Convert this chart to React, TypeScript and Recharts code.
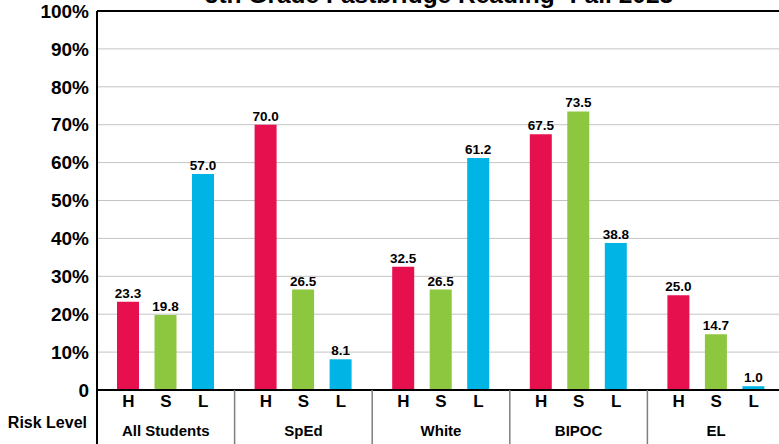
import {
  BarChart,
  Bar,
  XAxis,
  YAxis,
  CartesianGrid,
  ReferenceLine,
  LabelList,
} from 'recharts';

const groups = ['All Students', 'SpEd', 'White', 'BIPOC', 'EL'];
const highRisk = [23.3, 70.0, 32.5, 67.5, 25.0];
const someRisk = [19.8, 26.5, 26.5, 73.5, 14.7];
const lowRisk = [57.0, 8.1, 61.2, 38.8, 1.0];
const riskLabels = ['H', 'S', 'L'];
const yTicks = [0, 10, 20, 30, 40, 50, 60, 70, 80, 90, 100];

const title = '5th Grade Fastbridge Reading- Fall 2023';
const font = '"Liberation Sans", Arial, sans-serif';

const data = groups.map((g, i) => ({
  group: g,
  H: highRisk[i],
  S: someRisk[i],
  L: lowRisk[i],
}));

const GroupTick = ({ x, y, payload, index }: any) => {
  const half = 137.6 / 2;
  const step = 37.5;
  return (
    <g>
      {riskLabels.map((r, i) => (
        <text
          key={r}
          x={x + (i - 1) * step}
          y={y + 17}
          textAnchor="middle"
          fontSize={17}
          fontWeight="bold"
          fontFamily={font}
          fill="#000"
        >
          {r}
        </text>
      ))}
      <text x={x} y={y + 46} textAnchor="middle" fontSize={15} fontWeight="bold" fontFamily={font} fill="#000">
        {payload.value}
      </text>
      <line x1={x + half} y1={y} x2={x + half} y2={y + 60} stroke="#7f7f7f" strokeWidth={1.5} />
      {index === 0 && (
        <g>
          <line x1={x - half} y1={y} x2={x - half} y2={y + 60} stroke="#000" strokeWidth={2} />
          <text x={x - half - 10} y={y + 38} textAnchor="end" fontSize={16} fontWeight="bold" fontFamily={font} fill="#000">
            Risk Level
          </text>
        </g>
      )}
    </g>
  );
};

const fmt = (v: any) => Number(v).toFixed(1);

export default function App() {
  return (
    <div style={{ position: 'absolute', left: 0, top: 0, width: 779, height: 444, overflow: 'hidden', background: '#fff' }}>
      <div
        style={{
          position: 'absolute',
          left: 0,
          top: -18,
          width: 878,
          textAlign: 'center',
          fontFamily: font,
          fontWeight: 'bold',
          fontSize: 24.5,
          lineHeight: '26px',
          whiteSpace: 'nowrap',
        }}
      >
        {title}
      </div>
      <BarChart
        width={800}
        height={444}
        data={data}
        margin={{ top: 11, right: 15, left: 0, bottom: 0 }}
        barSize={22}
        barGap={15.5}
      >
        <CartesianGrid vertical={false} stroke="#c4c4c4" />
        <YAxis
          domain={[0, 100]}
          ticks={yTicks}
          width={97}
          tickLine={false}
          tickSize={0}
          tickMargin={8}
          axisLine={{ stroke: '#000', strokeWidth: 2 }}
          tickFormatter={(v) => (v === 0 ? '0' : `${v}%`)}
          tick={{ fontSize: 19, fontWeight: 'bold', fontFamily: font, fill: '#000' }}
        />
        <XAxis
          dataKey="group"
          height={54}
          tickLine={false}
          tickSize={0}
          tickMargin={0}
          interval={0}
          axisLine={{ stroke: '#000', strokeWidth: 2 }}
          tick={<GroupTick />}
        />
        <ReferenceLine y={100} stroke="#000" strokeWidth={2} />
        <Bar dataKey="H" fill="#E6104F" isAnimationActive={false}>
          <LabelList dataKey="H" position="top" offset={4} formatter={fmt} fontSize={13.5} fontWeight="bold" fontFamily={font} fill="#000" />
        </Bar>
        <Bar dataKey="S" fill="#8DC63F" isAnimationActive={false}>
          <LabelList dataKey="S" position="top" offset={4} formatter={fmt} fontSize={13.5} fontWeight="bold" fontFamily={font} fill="#000" />
        </Bar>
        <Bar dataKey="L" fill="#00B5E5" isAnimationActive={false}>
          <LabelList dataKey="L" position="top" offset={4} formatter={fmt} fontSize={13.5} fontWeight="bold" fontFamily={font} fill="#000" />
        </Bar>
      </BarChart>
    </div>
  );
}
